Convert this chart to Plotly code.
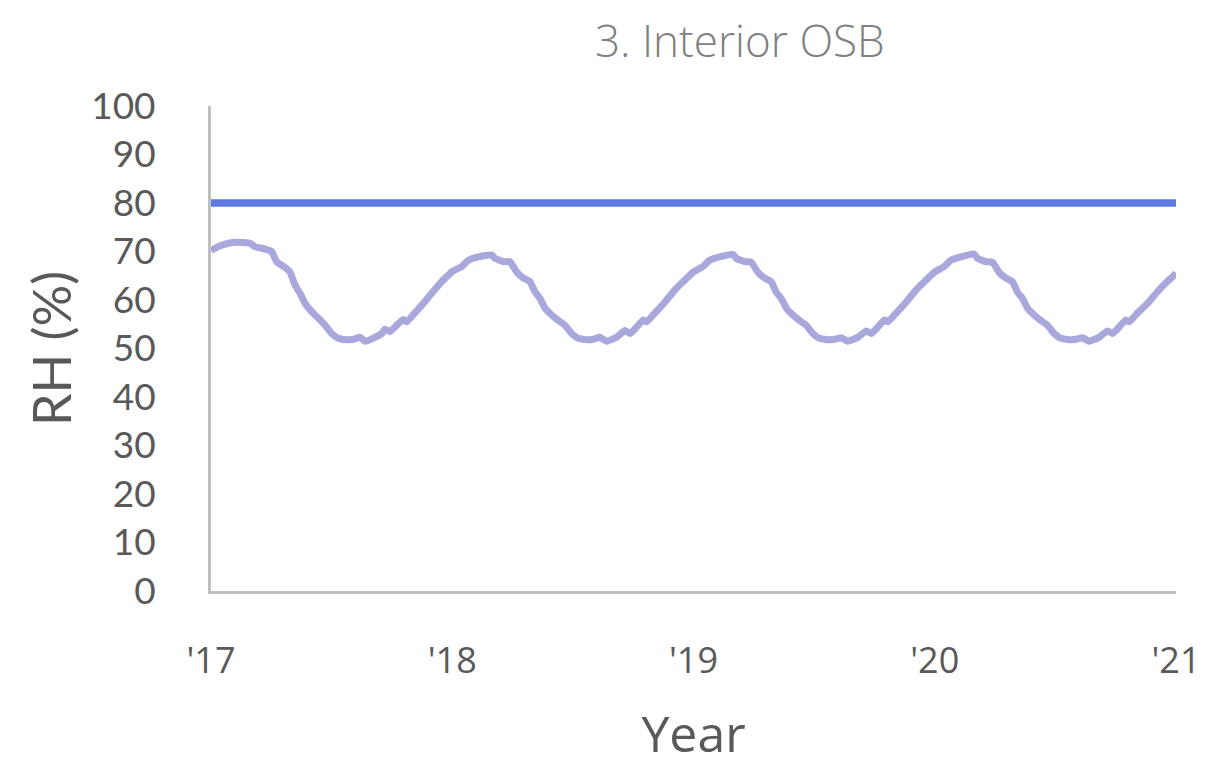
import plotly.graph_objects as go

# Fraction of year and RH (%), per year
y1_frac = [0.000, 0.030, 0.072, 0.107, 0.162, 0.182, 0.224, 0.252, 0.272, 0.307, 0.327, 0.348,
           0.369, 0.390, 0.417, 0.452, 0.473, 0.500, 0.528, 0.562, 0.590, 0.618, 0.638, 0.680,
           0.708, 0.721, 0.742, 0.770, 0.797, 0.811, 0.846, 0.880, 0.915, 0.956, 0.985]
y1_rh = [70.2, 71.0, 71.7, 71.9, 71.7, 71.0, 70.5, 70.0, 67.9, 66.7, 65.8, 63.1,
         61.4, 59.3, 57.6, 55.9, 54.8, 53.1, 52.1, 51.8, 51.9, 52.3, 51.5, 52.3,
         53.1, 54.0, 53.5, 54.8, 56.0, 55.5, 57.4, 59.3, 61.4, 63.8, 65.2]

y2_frac = [0.000, 0.039, 0.067, 0.108, 0.163, 0.177, 0.212, 0.239, 0.267, 0.295, 0.322, 0.343,
           0.364, 0.385, 0.412, 0.447, 0.467, 0.495, 0.522, 0.564, 0.585, 0.612, 0.640, 0.681,
           0.716, 0.737, 0.764, 0.792, 0.806, 0.840, 0.882, 0.923, 0.964]
y2_rh = [65.9, 66.9, 68.2, 68.9, 69.3, 68.6, 67.9, 67.9, 65.8, 64.5, 63.8, 61.7,
         60.3, 58.3, 56.9, 55.5, 54.8, 53.1, 52.1, 51.8, 51.9, 52.3, 51.5, 52.3,
         53.7, 53.1, 54.4, 55.9, 55.5, 57.3, 59.6, 62.1, 64.1]

y3_frac = y2_frac
y3_rh = [65.8, 66.9, 68.2, 68.9, 69.4, 68.6, 67.9, 67.8, 65.7, 64.5, 63.8, 61.6,
         60.3, 58.3, 56.9, 55.5, 54.8, 53.1, 52.1, 51.8, 51.9, 52.2, 51.5, 52.3,
         53.6, 53.1, 54.4, 55.9, 55.5, 57.3, 59.6, 62.1, 64.1]

y4_frac = y2_frac + [0.992, 1.000]
y4_rh = [65.8, 66.9, 68.2, 68.9, 69.5, 68.6, 67.9, 67.8, 65.7, 64.5, 63.8, 61.6,
         60.3, 58.3, 56.9, 55.5, 54.8, 53.1, 52.1, 51.8, 51.9, 52.2, 51.5, 52.3,
         53.6, 53.1, 54.4, 55.9, 55.5, 57.3, 59.3, 61.7, 63.8, 65.1, 65.6]

years = [2017, 2018, 2019, 2020]
threshold = 80
tick_vals = [2017, 2018, 2019, 2020, 2021]
tick_text = ["'17", "'18", "'19", "'20", "'21"]

x_all, rh_all = [], []
for yr, fr, rh in zip(years, [y1_frac, y2_frac, y3_frac, y4_frac], [y1_rh, y2_rh, y3_rh, y4_rh]):
    x_all += [yr + f for f in fr]
    rh_all += rh

fig = go.Figure()
fig.add_trace(go.Scatter(x=[2017, 2021], y=[threshold, threshold], mode="lines",
                         line=dict(color="#5B78E3", width=7.5), showlegend=False, hoverinfo="skip"))
fig.add_trace(go.Scatter(x=x_all, y=rh_all, mode="lines",
                         line=dict(color="#A8A8DD", width=7, shape="spline", smoothing=0.4),
                         showlegend=False))

grey = "#595959"
fig.update_layout(
    width=1214, height=767,
    margin=dict(l=211, r=38, t=106, b=176),
    plot_bgcolor="white", paper_bgcolor="white",
    xaxis=dict(range=[2017, 2021], tickvals=tick_vals, ticktext=tick_text,
               showgrid=False, zeroline=False, showline=True, linecolor="#BFBFBF", linewidth=3,
               ticks="", ticklabelstandoff=36,
               tickfont=dict(family="'Open Sans', sans-serif", size=36, color=grey),
               title=dict(text="Year", standoff=34,
                          font=dict(family="'Open Sans', sans-serif", size=50, color=grey))),
    yaxis=dict(range=[0, 100], tickvals=list(range(0, 101, 10)),
               showgrid=False, zeroline=False, showline=True, linecolor="#BFBFBF", linewidth=3,
               ticks="", ticklabelstandoff=45,
               tickfont=dict(family="Lato, 'Noto Sans', sans-serif", size=37, color=grey),
               title=dict(text="RH (%)", standoff=4,
                          font=dict(family="Lato, 'Noto Sans', sans-serif", size=52, color=grey))),
    annotations=[dict(text="3. Interior OSB",
                      x=(740 - 211) / (1176 - 211), y=1 + (106 - 40) / (591 - 106),
                      xref="paper", yref="paper", xanchor="center", yanchor="middle",
                      showarrow=False,
                      font=dict(family="'Open Sans', sans-serif", size=44, color="#808080", weight=300))],
)
fig.write_html("out.html")
